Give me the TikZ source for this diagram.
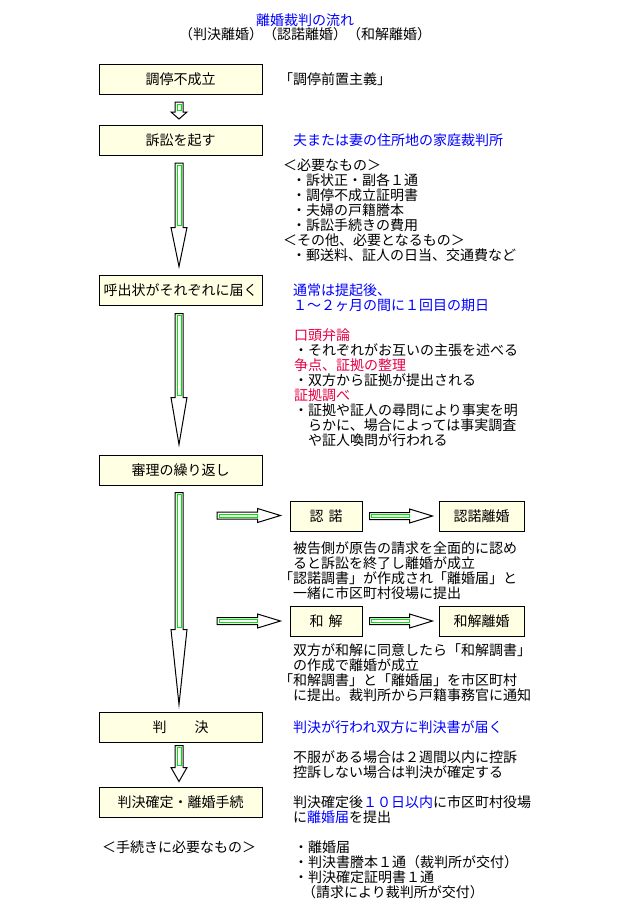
\documentclass[tikz,border=0pt]{standalone}
\usepackage{fontspec}
\setmainfont{Noto Sans CJK JP}
\usetikzlibrary{calc}
\definecolor{boxfill}{RGB}{255,255,228}
\definecolor{flowblue}{RGB}{0,0,255}
\definecolor{flowred}{RGB}{230,0,70}
\definecolor{flowgreen}{RGB}{0,230,0}
\newcommand{\ind}{\hspace*{9pt}}
\begin{document}
\begin{tikzpicture}[x=1pt, y=-1pt, font=\fontsize{14}{15}\selectfont,
	flowbox/.style={draw, fill=boxfill, line width=1pt, minimum width=163pt, minimum height=30pt, inner sep=0pt},
	smallbox/.style={flowbox, minimum width=72pt},
	fatedge/.style={draw=black, fill=white, line width=1pt},
	fatcore/.style={draw=flowgreen, line width=1pt},
	note/.style={anchor=north west, align=left, inner sep=0pt},
	line/.style={anchor=west, inner sep=0pt}]
	\fill[white] (0,0) rectangle (640,914);
	\useasboundingbox (0,0) rectangle (640,914);
	%title
	\node[text=flowblue] (title) at (305,20) {離婚裁判の流れ};
	\node (subtitle) at (305,34) {（判決離婚）（認諾離婚）（和解離婚）};
	%boxes
	\node[flowbox] (tei) at (180.5,79.5) {調停不成立};
	\node[flowbox] (sosho) at (180.5,140.5) {訴訟を起す};
	\node[flowbox] (yobi) at (180.5,290) {呼出状がそれぞれに届く};
	\node[flowbox] (shinri) at (180.5,470) {審理の繰り返し};
	\node[flowbox] (hanketsu) at (180.5,727) {判\hspace{28pt}決};
	\node[flowbox] (kakutei) at (180.5,802) {判決確定・離婚手続};
	\node[smallbox] (ninaku) at (326,516) {認\hspace{5pt}諾};
	\node[smallbox, minimum width=85pt] (ninakurikon) at (481.5,516) {認諾離婚};
	\node[smallbox] (wakai) at (326,621) {和\hspace{5pt}解};
	\node[smallbox, minimum width=85pt] (wakairikon) at (481.5,621) {和解離婚};
	%arrows down
	\foreach \from/\to/\gapa/\gapb/\hd in {tei/sosho/7pt/6pt/7pt, sosho/yobi/7pt/8pt/39pt,
		yobi/shinri/8pt/10pt/47pt, shinri/hanketsu/7pt/7pt/75pt, hanketsu/kakutei/3pt/5pt/14pt}
	{
		\draw[fatedge] let \p1=($(\from.south)+(-1.5,0)$), \p2=(\to.north) in
		(\x1-4pt,\y1-\gapa) -- (\x1+4pt,\y1-\gapa) -- (\x1+4pt,\y2+\gapb+\hd)
		-- (\x1+8pt,\y2+\gapb+\hd) -- (\x1,\y2+\gapb) -- (\x1-8pt,\y2+\gapb+\hd)
		-- (\x1-4pt,\y2+\gapb+\hd) -- cycle;
		\draw[fatcore] let \p1=($(\from.south)+(-1.5,0)$), \p2=(\to.north) in
		(\x1-2pt,\y1-\gapa-2pt) rectangle (\x1+2pt,\y2+\gapb+\hd+2pt);
	}
	%arrows right
	\coordinate (nin0) at (217,515.5);
	\coordinate (wak0) at (217,621);
	\foreach \from/\to/\gapa/\gapb in {nin0/ninaku.west/0pt/9pt, ninaku.east/ninakurikon.west/7pt/6pt,
		wak0/wakai.west/0pt/9pt, wakai.east/wakairikon.west/7pt/6pt}
	{
		\draw[fatedge] let \p1=(\from), \p2=(\to) in
		(\x1+\gapa,\y1+3.5pt) -- (\x2-\gapb-23pt,\y1+3.5pt) -- (\x2-\gapb-23pt,\y1+7pt)
		-- (\x2-\gapb,\y1) -- (\x2-\gapb-23pt,\y1-7pt) -- (\x2-\gapb-23pt,\y1-3.5pt)
		-- (\x1+\gapa,\y1-3.5pt) -- cycle;
		\draw[fatcore] let \p1=(\from), \p2=(\to) in
		(\x1+\gapa+2pt,\y1+1.5pt) rectangle (\x2-\gapb-23pt,\y1-1.5pt);
	}
	%notes
	\node[line] (zenchi) at (279,79.5) {「調停前置主義」};
	\node[line, text=flowblue] (kankatsu) at (293,140.5) {夫または妻の住所地の家庭裁判所};
	\node[note] (hitsuyo) at (283,158.7) {＜必要なもの＞\\
		\ind・訴状正・副各１通\\
		\ind・調停不成立証明書\\
		\ind・夫婦の戸籍謄本\\
		\ind・訴訟手続きの費用\\
		＜その他、必要となるもの＞\\
		\ind・郵送料、証人の日当、交通費など};
	\node[note, text=flowblue] (kijitsu) at (293,283.7) {通常は提起後、\\
		１～２ヶ月の間に１回目の期日};
	\node[note] (shinrinote) at (294,328.7) {{\color{flowred}口頭弁論}\\
		・それぞれがお互いの主張を述べる\\
		{\color{flowred}争点、証拠の整理}\\
		・双方から証拠が提出される\\
		{\color{flowred}証拠調べ}\\
		・証拠や証人の尋問により事実を明\\
		　らかに、場合によっては事実調査\\
		　や証人喚問が行われる};
	\node[note] (ninakunote) at (279,541.7) {　被告側が原告の請求を全面的に認め\\
		　ると訴訟を終了し離婚が成立\\
		「認諾調書」が作成され「離婚届」と\\
		　一緒に市区町村役場に提出};
	\node[note] (wakainote) at (279,643.7) {　双方が和解に同意したら「和解調書」\\
		　の作成で離婚が成立\\
		「和解調書」と「離婚届」を市区町村\\
		　に提出。裁判所から戸籍事務官に通知};
	\node[line, text=flowblue] (todoku) at (293,727) {判決が行われ双方に判決書が届く};
	\node[note] (koso) at (293,750.7) {不服がある場合は２週間以内に控訴\\
		控訴しない場合は判決が確定する};
	\node[note] (todoke) at (293,795.7) {判決確定後{\color{flowblue}１０日以内}に市区町村役場\\
		に{\color{flowblue}離婚届}を提出};
	\node[line] (tetsuzuki) at (102,847) {＜手続きに必要なもの＞};
	\node[note] (shorui) at (294,840.7) {・離婚届\\
		・判決書謄本１通（裁判所が交付）\\
		・判決確定証明書１通\\
		\hspace*{8pt}（請求により裁判所が交付）};
\end{tikzpicture}
\end{document}
